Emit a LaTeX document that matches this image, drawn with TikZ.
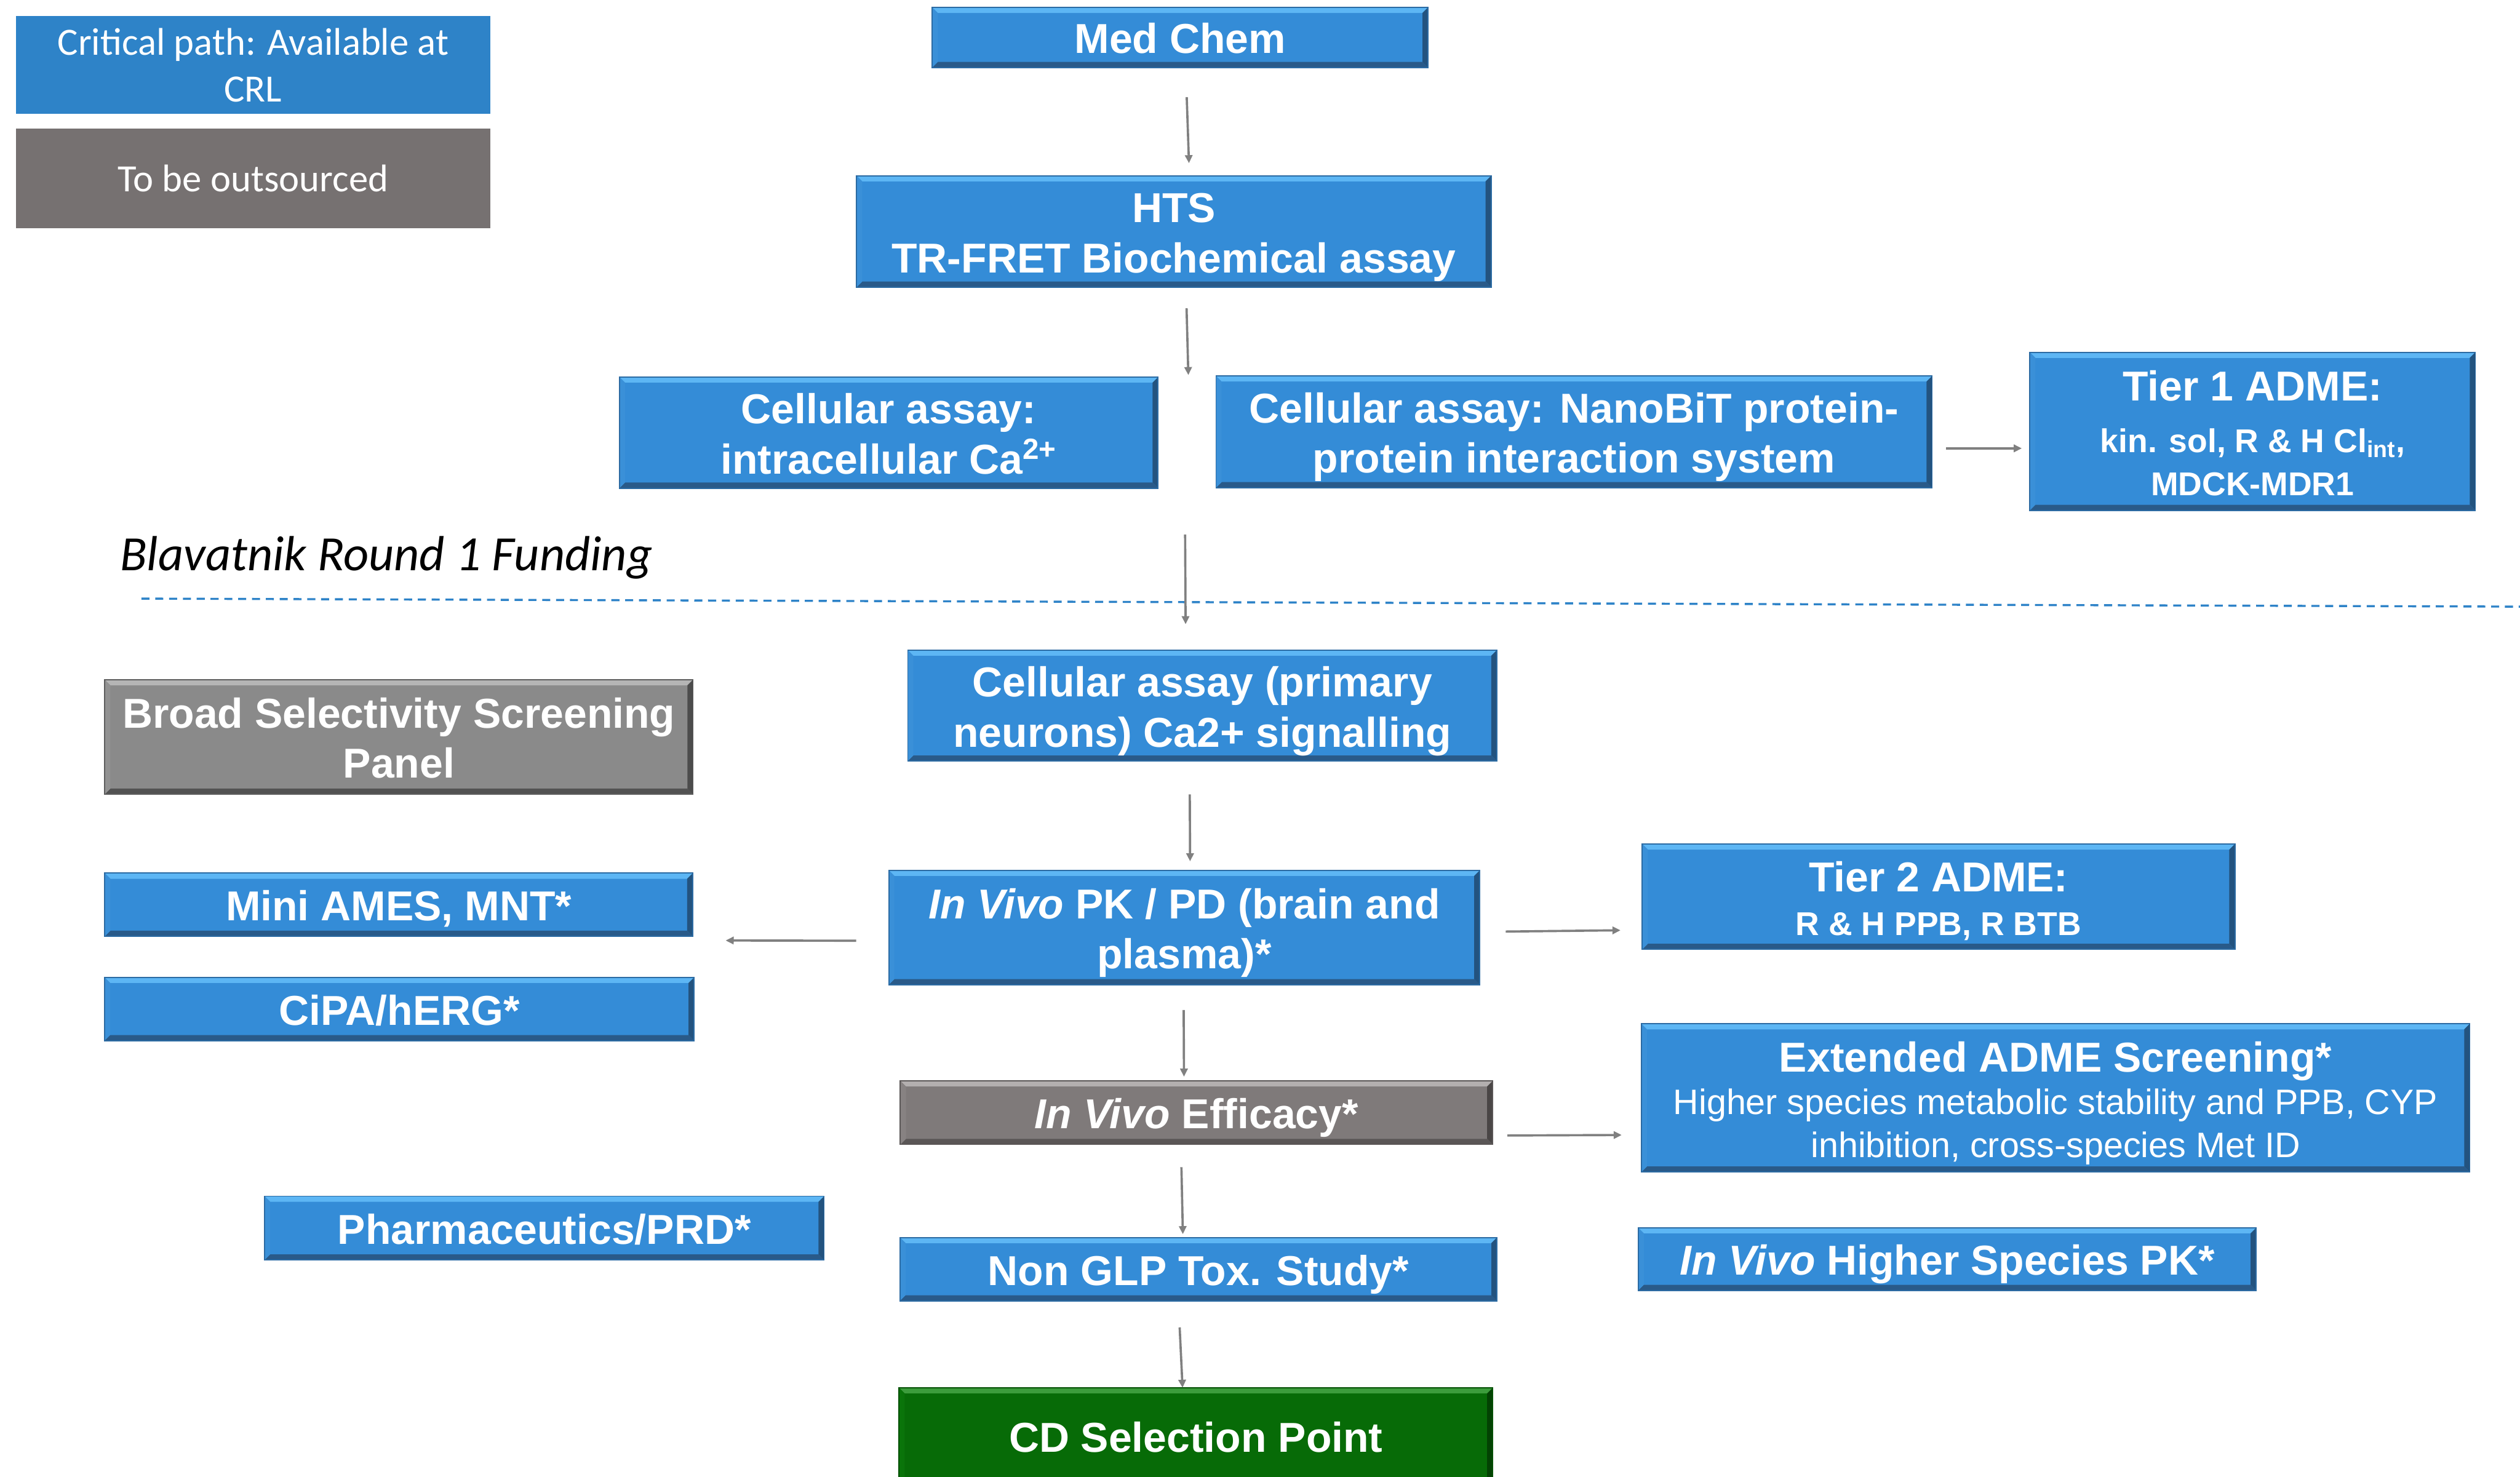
\documentclass[tikz,border=0pt]{standalone}
\usepackage{fontspec}
\setmainfont{Liberation Sans}
\newfontfamily\calib{Carlito}
\usetikzlibrary{arrows.meta}
\definecolor{bmain}{HTML}{348CD7}
\definecolor{btop}{HTML}{5DB6F4}
\definecolor{bright}{HTML}{23537F}
\definecolor{bbot}{HTML}{295A89}
\definecolor{bleft}{HTML}{3A90D8}
\definecolor{bedge}{HTML}{2C6BA3}
\definecolor{gmain}{HTML}{8A8A8A}
\definecolor{gtop}{HTML}{B5B5B5}
\definecolor{gright}{HTML}{4C4C4C}
\definecolor{gbot}{HTML}{525252}
\definecolor{gleft}{HTML}{929292}
\definecolor{gedge}{HTML}{5E5E5E}
\definecolor{emain}{HTML}{7F7A7A}
\definecolor{etop}{HTML}{B3AFAF}
\definecolor{eright}{HTML}{4A4646}
\definecolor{ebot}{HTML}{5A5656}
\definecolor{eleft}{HTML}{878282}
\definecolor{eedge}{HTML}{5A5656}
\definecolor{cmain}{HTML}{076B07}
\definecolor{ctop}{HTML}{3C9C3C}
\definecolor{cright}{HTML}{034203}
\definecolor{cbot}{HTML}{044A04}
\definecolor{cleft}{HTML}{0A740A}
\definecolor{cedge}{HTML}{045004}
\definecolor{legblue}{HTML}{2E83C8}
\definecolor{leggrey}{HTML}{767171}
\definecolor{arrgrey}{HTML}{808080}
\newcommand{\mybevel}[5]{%
 \fill[#2] (path picture bounding box.north west) -- (path picture bounding box.north east) -- ([shift={(-#1,-#1)}]path picture bounding box.north east) -- ([shift={(#1,-#1)}]path picture bounding box.north west) -- cycle;
 \fill[#3] (path picture bounding box.north east) -- (path picture bounding box.south east) -- ([shift={(-#1,#1)}]path picture bounding box.south east) -- ([shift={(-#1,-#1)}]path picture bounding box.north east) -- cycle;
 \fill[#4] (path picture bounding box.south west) -- (path picture bounding box.south east) -- ([shift={(-#1,#1)}]path picture bounding box.south east) -- ([shift={(#1,#1)}]path picture bounding box.south west) -- cycle;
 \fill[#5] (path picture bounding box.north west) -- (path picture bounding box.south west) -- ([shift={(#1,#1)}]path picture bounding box.south west) -- ([shift={(#1,-#1)}]path picture bounding box.north west) -- cycle;
}
\newcommand{\tstrut}{\vrule width 0pt height 0.98em depth 0pt\relax}
\newcommand{\bstrut}{\vrule width 0pt height 0pt depth 0.212em\relax}
\tikzset{
 box/.style={rectangle, inner sep=0pt, outer sep=0pt, text=white, align=center, font=\fontsize{26}{31.3}\selectfont\bfseries},
 bluebox/.style={box, fill=bmain, draw=bedge, line width=0.7pt, path picture={\mybevel{3.5pt}{btop}{bright}{bbot}{bleft}}},
 greybox/.style={box, fill=gmain, draw=gedge, line width=0.7pt, path picture={\mybevel{3.5pt}{gtop}{gright}{gbot}{gleft}}},
 effbox/.style={box, fill=emain, draw=eedge, line width=0.7pt, path picture={\mybevel{3.5pt}{etop}{eright}{ebot}{eleft}}},
 greenbox/.style={box, fill=cmain, draw=cedge, line width=0.7pt, path picture={\mybevel{3.5pt}{ctop}{cright}{cbot}{cleft}}},
 legendbox/.style={rectangle, inner sep=0pt, outer sep=0pt, text=white, align=center, font=\calib\fontsize{24}{29}\selectfont},
 arr/.style={draw=arrgrey, line width=1.4pt, -{Triangle[length=5pt,width=4.6pt]}},
}
\begin{document}
\begin{tikzpicture}[x=1pt,y=-1pt]
\useasboundingbox (0,0) rectangle (1568,919);
\clip (0,0) rectangle (1568,919);
% legend
\node[legendbox, fill=legblue, minimum width=295pt, minimum height=61pt] (legC) at (157.5,40.5) {Critical path: Available at\\CRL};
\node[legendbox, fill=leggrey, minimum width=295pt, minimum height=62pt] (legO) at (157.5,111) {To be outsourced};
% funding line
\node[anchor=base west, inner sep=0pt, font=\calib\itshape\fontsize{30.7}{36}\selectfont] (fund) at (74.5,355) {Blavatnik Round 1 Funding};
\coordinate (dl) at (88,372.5);
\coordinate (dr) at (1568,377.5);
\draw[legblue, line width=1.3pt, dash pattern=on 5pt off 3.6pt] (dl) -- (dr);
% main boxes
\node[bluebox, minimum width=308.6pt, minimum height=37.5pt] (medchem) at (734.3,23.3) {\tstrut Med Chem\bstrut};
\node[bluebox, minimum width=394.8pt, minimum height=69.3pt] (hts) at (730.4,144) {\tstrut HTS\\TR-FRET Biochemical assay\bstrut};
\node[bluebox, minimum width=335.2pt, minimum height=69.2pt] (cellA) at (553,269.2) {\tstrut Cellular assay:\\intracellular Ca\textsuperscript{2+}\bstrut};
\node[bluebox, minimum width=445.6pt, minimum height=69.6pt] (cellB) at (979.4,268.7) {\tstrut Cellular assay: NanoBiT protein-\\protein interaction system\bstrut};
\node[bluebox, minimum width=277.2pt, minimum height=98.4pt] (tier1) at (1401.6,268.4) {\tstrut Tier 1 ADME:\\[0.6pt]{\fontsize{20.5}{27}\selectfont kin. sol, R \& H Cl\textsubscript{int},}\\[-4.3pt]{\fontsize{20.5}{27}\selectfont MDCK-MDR1\bstrut}};
\node[bluebox, minimum width=366.6pt, minimum height=69.1pt] (cellP) at (748.1,439.1) {\tstrut Cellular assay (primary\\neurons) Ca2+ signalling\bstrut};
\node[greybox, minimum width=366pt, minimum height=71.3pt] (broad) at (248.2,458.6) {\tstrut Broad Selectivity Screening\\Panel\bstrut};
\node[bluebox, minimum width=365.8pt, minimum height=39.3pt] (mini) at (248.1,563) {\tstrut Mini AMES, MNT*\bstrut};
\node[bluebox, minimum width=366.9pt, minimum height=39.4pt] (cipa) at (248.5,627.9) {\tstrut CiPA/hERG*\bstrut};
\node[bluebox, minimum width=367.8pt, minimum height=71.2pt] (pkpd) at (736.9,577.2) {\tstrut\textit{In Vivo} PK / PD (brain and\\plasma)*\bstrut};
\node[bluebox, minimum width=368.8pt, minimum height=65.6pt] (tier2) at (1206.2,558) {\tstrut Tier 2 ADME:\\[-4pt]{\fontsize{20.5}{27}\selectfont R \& H PPB, R BTB\bstrut}};
\node[effbox, minimum width=368.6pt, minimum height=39.6pt] (eff) at (744.5,692.4) {\tstrut\textit{In Vivo} Efficacy*\bstrut};
\node[bluebox, minimum width=515.5pt, minimum height=92.3pt] (ext) at (1279,683.2) {\tstrut Extended ADME Screening*\\[-4.7pt]{\mdseries\fontsize{22}{26.5}\selectfont Higher species metabolic stability and PPB, CYP}\\[-4.5pt]{\mdseries\fontsize{22}{26.5}\selectfont inhibition, cross-species Met ID\bstrut}};
\node[bluebox, minimum width=348.2pt, minimum height=39.7pt] (pharm) at (338.7,764.2) {\tstrut Pharmaceutics/PRD*\bstrut};
\node[bluebox, minimum width=371.5pt, minimum height=39.4pt] (nonglp) at (745.7,789.8) {\tstrut Non GLP Tox. Study*\bstrut};
\node[greenbox, minimum width=369.4pt, minimum height=60pt] (cd) at (744.1,893.6) {\tstrut CD Selection Point\bstrut};
\node[bluebox, minimum width=384.6pt, minimum height=39pt] (ivhs) at (1211.6,783.5) {\tstrut\textit{In Vivo} Higher Species PK*\bstrut};
% arrows
\coordinate (c2) at (739.4,233.4);
\coordinate (c4) at (737.4,332.6);
\draw[arr] ([shift={(4.1pt,-18.4pt)}]medchem.south) -- ([shift={(9.4pt,7.8pt)}]hts.north);
\draw[arr] ([shift={(7.9pt,-13.2pt)}]hts.south) -- (c2);
\draw[arr] ([shift={(8.8pt,-10.3pt)}]cellB.east) -- ([shift={(-5pt,-10.6pt)}]tier1.west);
\draw[arr] (c4) -- ([shift={(-10.4pt,16.1pt)}]cellP.north);
\draw[arr] ([shift={(-7.8pt,-20.7pt)}]cellP.south) -- ([shift={(3.6pt,5.6pt)}]pkpd.north);
\draw[arr] ([shift={(-20.3pt,-8.2pt)}]pkpd.west) -- ([shift={(20.5pt,-2.6pt)}]mini.south east);
\draw[arr] ([shift={(16.1pt,-2.5pt)}]pkpd.east) -- ([shift={(-13.5pt,-20.9pt)}]tier2.west);
\draw[arr] ([shift={(-0.4pt,-15.7pt)}]pkpd.south) -- ([shift={(-7.8pt,2.6pt)}]eff.north);
\draw[arr] ([shift={(9.1pt,-14.2pt)}]eff.east) -- ([shift={(-12.2pt,-23.1pt)}]ext.west);
\draw[arr] ([shift={(-9.4pt,-14.1pt)}]eff.south) -- ([shift={(-9.7pt,2.1pt)}]nonglp.north);
\draw[arr] ([shift={(-11.7pt,-16.5pt)}]nonglp.south) -- ([shift={(-8.3pt,0pt)}]cd.north);
\end{tikzpicture}
\end{document}
